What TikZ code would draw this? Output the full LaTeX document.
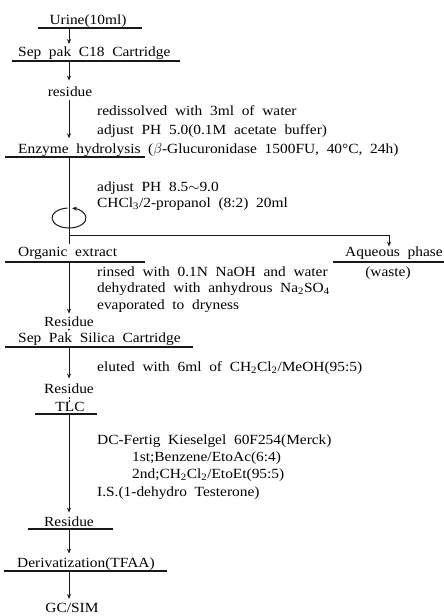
\documentclass[tikz,border=0pt]{standalone}
\usepackage{fontspec}
\setmainfont[FakeStretch=1.1,WordSpace=2]{Liberation Serif}
\usetikzlibrary{arrows.meta,calc}
\begin{document}
\begin{tikzpicture}[x=1pt,y=-1pt,
  txt/.style={inner sep=0pt,anchor=base west,font=\fontsize{14}{16}\selectfont},
  ctxt/.style={inner sep=0pt,anchor=base,font=\fontsize{14}{16}\selectfont},
  uline/.style={line width=1.5pt,draw=black!90},
  flow/.style={line width=1pt,draw=black!90,-{Stealth[length=5pt,width=4pt]}},
  plain/.style={line width=1pt,draw=black!90}]
\useasboundingbox (0,0) rectangle (444,616);
\fill[white] (0,0) rectangle (444,616);

% step texts
\node[ctxt] (urine) at (88,24.5) {Urine(10ml)};
\node[txt] (c18) at (18,56.5) {Sep pak C18 Cartridge};
\node[ctxt] (res1) at (70,96.5) {residue};
\node[txt] (t1) at (97,115.5) {redissolved with 3ml of water};
\node[txt] (t2) at (97,134.5) {adjust PH 5.0(0.1M acetate buffer)};
\node[txt] (enz) at (18,153.5) {Enzyme hydrolysis ($\beta$-Glucuronidase 1500FU, 40°C, 24h)};
\node[txt] (t3) at (97,191.5) {adjust PH 8.5$\sim$9.0};
\node[txt] (t4) at (97,207.5) {CHCl\textsubscript{3}/2-propanol (8:2) 20ml};
\node[txt] (org) at (18,256.5) {Organic extract};
\node[txt] (aq) at (345,256.5) {Aqueous phase};
\node[ctxt] (waste) at (388,276.5) {(waste)};
\node[txt] (t5) at (97,276.5) {rinsed with 0.1N NaOH and water};
\node[txt] (t6) at (97,292.5) {dehydrated with anhydrous Na\textsubscript{2}SO\textsubscript{4}};
\node[txt] (t7) at (97,309.5) {evaporated to dryness};
\node[ctxt] (res2) at (69,326.5) {Residue};
\node[txt] (sil) at (18,342.5) {Sep Pak Silica Cartridge};
\node[txt] (t8) at (97,371.5) {eluted with 6ml of CH\textsubscript{2}Cl\textsubscript{2}/MeOH(95:5)};
\node[ctxt] (res3) at (69,393.5) {Residue};
\node[ctxt] (tlc) at (70,411.5) {TLC};
\node[txt] (t9) at (97,444.5) {DC-Fertig Kieselgel 60F254(Merck)};
\node[txt] (t10) at (132,461.5) {1st;Benzene/EtoAc(6:4)};
\node[txt] (t11) at (132,478.5) {2nd;CH\textsubscript{2}Cl\textsubscript{2}/EtoEt(95:5)};
\node[txt] (t12) at (97,496.5) {I.S.(1-dehydro Testerone)};
\node[ctxt] (res4) at (69,526.5) {Residue};
\node[txt] (der) at (17,567.5) {Derivatization(TFAA)};
\node[ctxt] (gc) at (72,612.5) {GC/SIM};

% underlines
\draw[uline] (38,28) -- (142,28);
\draw[uline] (12,61) -- (180,61);
\draw[uline] (5,157) -- (145,157);
\draw[uline] (5,262) -- (145,262);
\draw[uline] (333,262) -- (444,262);
\draw[uline] (5,347) -- (193,347);
\draw[uline] (35,414) -- (97,414);
\draw[uline] (28,529) -- (113,529);
\draw[uline] (4,571) -- (167,571);

% axis coordinates
\coordinate (a1) at (69,28);
\coordinate (a2) at (69,61);
\coordinate (a3) at (69,157);
\coordinate (br) at (69,235);
\coordinate (bq) at (389,235);
\coordinate (a4) at (69,262);
\coordinate (a5) at (69,347);
\coordinate (a6) at (69,414);
\coordinate (a7) at (69,529);
\coordinate (a8) at (69,571);
\coordinate (mix) at (69,218);

% connectors
\draw[flow,shorten >=2.5pt] (a1) -- (a1 |- c18.north);
\draw[flow,shorten >=6pt] (a2) -- (a2 |- res1.north);
\draw[flow,shorten <=3pt,shorten >=5pt] (res1.south -| a2) -- (a2 |- enz.north);
\draw[plain] (a3) -- (br);
\draw[flow] (br) -- (bq) -- (bq |- aq.north);
\draw[plain,shorten >=3pt] (br) -- (br |- org.north);
\draw[flow,shorten >=3pt] (a4) -- (a4 |- res2.north);
\fill[black!90] ($(res2.south)!0.5!(sil.north -| res2.south)$) circle (1pt);
\draw[flow,shorten >=5pt] (a5) -- (a5 |- res3.north);
\draw[plain,dash pattern=on 2pt off 1.5pt,shorten <=3pt] (res3.south) -- (res3.south |- tlc.north);
\draw[flow,shorten >=4pt] (a6) -- (a6 |- res4.north);
\draw[flow,shorten >=4pt] (a7) -- (a7 |- der.north);
\draw[flow,shorten >=4pt] (a8) -- (a8 |- gc.north);

% mixing symbol
\draw[flow] ([shift={(265:17 and 10)}]mix) arc[start angle=265,end angle=-80,x radius=17,y radius=10];
\end{tikzpicture}
\end{document}
